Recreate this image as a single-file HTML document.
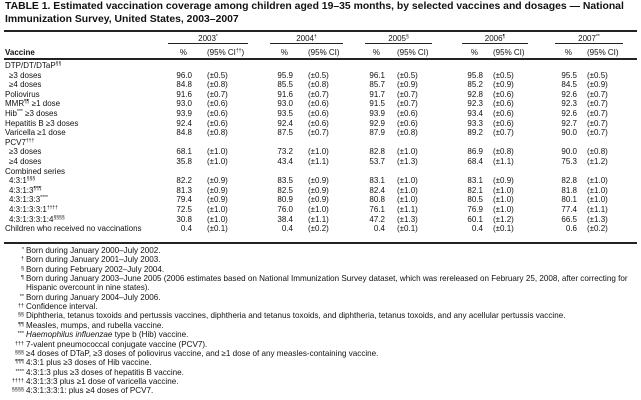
<!DOCTYPE html>
<html><head><meta charset="utf-8"><style>
html,body{margin:0;padding:0;background:#fff;}
body{width:641px;height:400px;position:relative;overflow:hidden;font-family:"Liberation Sans",Arial,sans-serif;color:#111;}
.t{position:absolute;left:5px;font-weight:bold;font-size:10.4px;white-space:nowrap;}
.a{position:absolute;white-space:nowrap;font-size:8px;line-height:9px;}
.r{text-align:right;}
.ln{position:absolute;background:#222;}
sup{font-size:5px;vertical-align:baseline;position:relative;top:-3px;line-height:1;}
.f{position:absolute;font-size:8.1px;white-space:nowrap;line-height:9px;}
.fm{position:absolute;font-size:5.5px;text-align:right;width:24px;left:0;line-height:9px;}
</style></head><body>
<div class="t" style="top:1px">TABLE 1. Estimated vaccination coverage among children aged 19–35 months, by selected vaccines and dosages — National</div>
<div class="t" style="top:14px">Immunization Survey, United States, 2003–2007</div>
<div class="ln" style="left:4px;width:633px;top:30px;height:2px"></div>
<div id="hdr"></div>
<div class="ln" style="left:4px;width:633px;top:58px;height:2px"></div>
<div id="body"></div>
<div class="ln" style="left:4px;width:633px;top:242px;height:2px"></div>
<div id="foot"></div>
<script>
var pr=[192,293,385,483,577], cl=[207,308,397,493,587];
var ul=[[168,248],[270,343],[365,432],[462,528],[555,623]];
var yrs=['2003<sup>*</sup>','2004<sup>†</sup>','2005<sup>§</sup>','2006<sup>¶</sup>','2007<sup>**</sup>'];
var h='';
for(var i=0;i<5;i++){
 var c=(ul[i][0]+ul[i][1])/2;
 h+='<div class="a" style="top:34px;left:'+(c-30)+'px;width:60px;text-align:center">'+yrs[i]+'</div>';
 h+='<div class="ln" style="top:43px;height:1px;left:'+ul[i][0]+'px;width:'+(ul[i][1]-ul[i][0])+'px"></div>';
 h+='<div class="a r" style="top:48px;left:'+(pr[i]-20)+'px;width:15px">%</div>';
 h+='<div class="a" style="top:48px;left:'+cl[i]+'px">(95% CI'+(i==0?'<sup>††</sup>':'')+')</div>';
}
h+='<div class="a" style="top:48px;left:5px;font-weight:bold">Vaccine</div>';
document.getElementById('hdr').innerHTML=h;
var rows=[
['DTP/DT/DTaP<sup>§§</sup>',0],
['≥3 doses',1,'96.0','0.5','95.9','0.5','96.1','0.5','95.8','0.5','95.5','0.5'],
['≥4 doses',1,'84.8','0.8','85.5','0.8','85.7','0.9','85.2','0.9','84.5','0.9'],
['Poliovirus',0,'91.6','0.7','91.6','0.7','91.7','0.7','92.8','0.6','92.6','0.7'],
['MMR<sup>¶¶</sup> ≥1 dose',0,'93.0','0.6','93.0','0.6','91.5','0.7','92.3','0.6','92.3','0.7'],
['Hib<sup>***</sup> ≥3 doses',0,'93.9','0.6','93.5','0.6','93.9','0.6','93.4','0.6','92.6','0.7'],
['Hepatitis B ≥3 doses',0,'92.4','0.6','92.4','0.6','92.9','0.6','93.3','0.6','92.7','0.7'],
['Varicella ≥1 dose',0,'84.8','0.8','87.5','0.7','87.9','0.8','89.2','0.7','90.0','0.7'],
['PCV7<sup>†††</sup>',0],
['≥3 doses',1,'68.1','1.0','73.2','1.0','82.8','1.0','86.9','0.8','90.0','0.8'],
['≥4 doses',1,'35.8','1.0','43.4','1.1','53.7','1.3','68.4','1.1','75.3','1.2'],
['Combined series',0],
['4:3:1<sup>§§§</sup>',1,'82.2','0.9','83.5','0.9','83.1','1.0','83.1','0.9','82.8','1.0'],
['4:3:1:3<sup>¶¶¶</sup>',1,'81.3','0.9','82.5','0.9','82.4','1.0','82.1','1.0','81.8','1.0'],
['4:3:1:3:3<sup>****</sup>',1,'79.4','0.9','80.9','0.9','80.8','1.0','80.5','1.0','80.1','1.0'],
['4:3:1:3:3:1<sup>††††</sup>',1,'72.5','1.0','76.0','1.0','76.1','1.1','76.9','1.0','77.4','1.1'],
['4:3:1:3:3:1:4<sup>§§§§</sup>',1,'30.8','1.0','38.4','1.1','47.2','1.3','60.1','1.2','66.5','1.3'],
['Children who received no vaccinations',0,'0.4','0.1','0.4','0.2','0.4','0.1','0.4','0.1','0.6','0.2']];
h='';
for(var r=0;r<rows.length;r++){
 var y=61+r*9.6, R=rows[r];
 h+='<div class="a" style="top:'+y+'px;left:'+(R[1]?9:5)+'px">'+R[0]+'</div>';
 for(var i=0;i<5&&R.length>2;i++){
  h+='<div class="a r" style="top:'+y+'px;left:'+(pr[i]-30)+'px;width:30px">'+R[2+2*i]+'</div>';
  h+='<div class="a" style="top:'+y+'px;left:'+cl[i]+'px">(±'+R[3+2*i]+')</div>';
 }
}
document.getElementById('body').innerHTML=h;
var fn=[['*','Born during January 2000–July 2002.'],['†','Born during January 2001–July 2003.'],['§','Born during February 2002–July 2004.'],
['¶','Born during January 2003–June 2005 (2006 estimates based on National Immunization Survey dataset, which was rereleased on February 25, 2008, after correcting for'],
['','Hispanic overcount in nine states).'],['**','Born during January 2004–July 2006.'],['††','Confidence interval.'],
['§§','Diphtheria, tetanus toxoids and pertussis vaccines, diphtheria and tetanus toxoids, and diphtheria, tetanus toxoids, and any acellular pertussis vaccine.'],
['¶¶','Measles, mumps, and rubella vaccine.'],['***','<i>Haemophilus influenzae</i> type b (Hib) vaccine.'],['†††','7-valent pneumococcal conjugate vaccine (PCV7).'],
['§§§','≥4 doses of DTaP, ≥3 doses of poliovirus vaccine, and ≥1 dose of any measles-containing vaccine.'],['¶¶¶','4:3:1 plus ≥3 doses of Hib vaccine.'],
['****','4:3:1:3 plus ≥3 doses of hepatitis B vaccine.'],['††††','4:3:1:3:3 plus ≥1 dose of varicella vaccine.'],['§§§§','4:3:1:3:3:1: plus ≥4 doses of PCV7.']];
h='';
for(var k=0;k<fn.length;k++){
 var y=246+k*9.35;
 h+='<div class="fm" style="top:'+y+'px">'+fn[k][0]+'</div>';
 h+='<div class="f" style="top:'+y+'px;left:26px">'+fn[k][1]+'</div>';
}
document.getElementById('foot').innerHTML=h;
</script>
</body></html>
